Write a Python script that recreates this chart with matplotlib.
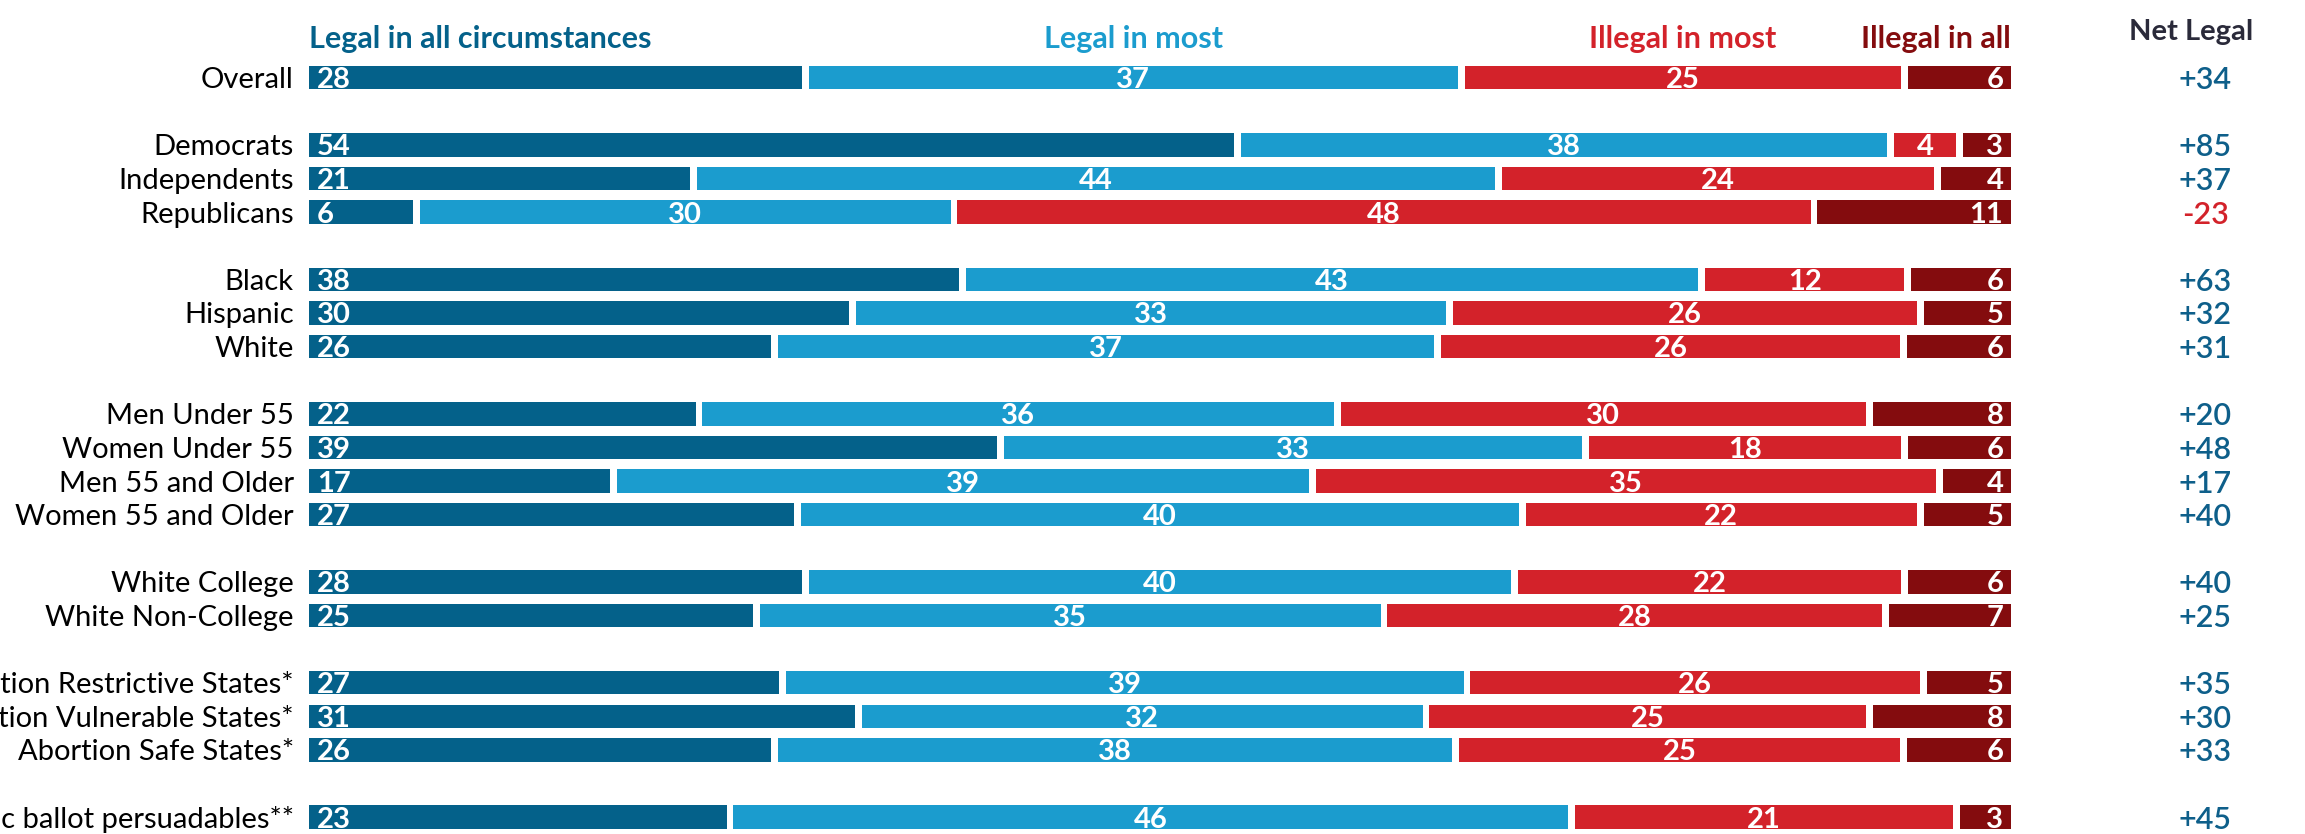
import matplotlib
matplotlib.use("Agg")
import matplotlib.pyplot as plt

# data
groups = ["Overall", "Democrats", "Independents", "Republicans", "Black", "Hispanic", "White",
          "Men Under 55", "Women Under 55", "Men 55 and Older", "Women 55 and Older",
          "White College", "White Non-College",
          "Abortion Restrictive States*", "Abortion Vulnerable States*", "Abortion Safe States*",
          "Generic ballot persuadables**"]
row_pos = [0, 2, 3, 4, 6, 7, 8, 10, 11, 12, 13, 15, 16, 18, 19, 20, 22]
legal_all = [28, 54, 21, 6, 38, 30, 26, 22, 39, 17, 27, 28, 25, 27, 31, 26, 23]
legal_most = [37, 38, 44, 30, 43, 33, 37, 36, 33, 39, 40, 40, 35, 39, 32, 38, 46]
illegal_most = [25, 4, 24, 48, 12, 26, 26, 30, 18, 35, 22, 22, 28, 26, 25, 25, 21]
illegal_all = [6, 3, 4, 11, 6, 5, 6, 8, 6, 4, 5, 6, 7, 5, 8, 6, 3]
series_names = ["Legal in all circumstances", "Legal in most", "Illegal in most", "Illegal in all"]
colors = ["#04618A", "#1B9CCE", "#D3222A", "#840C0E"]

W, H = 2305, 834
fig = plt.figure(figsize=(W / 100, H / 100), dpi=100)
x0, x1 = 309, 2011
ax = fig.add_axes([x0 / W, 0, (x1 - x0) / W, 1])
ax.set_xlim(0, 100)
ax.set_ylim(22.5, -2.31)
ax.axis("off")

lab_font = ["Lato", "DejaVu Sans"]
gap = 0.2
bar_h = 0.70
series = [legal_all, legal_most, illegal_most, illegal_all]

for i, y in enumerate(row_pos):
    vals = [s[i] for s in series]
    total = sum(vals)
    start = 0
    for k, v in enumerate(vals):
        w = v / total * 100
        left = start + (gap if k > 0 else 0)
        right = start + w - (gap if k < 3 else 0)
        ax.barh(y, right - left, left=left, height=bar_h, color=colors[k], linewidth=0)
        if k == 0:
            tx, ha = left + 0.45, "left"
        elif k == 3:
            tx, ha = right - 0.45, "right"
        else:
            tx, ha = (left + right) / 2, "center"
        ax.text(tx, y, str(v), ha=ha, va="center_baseline", color="white",
                fontsize=21, family=lab_font, fontweight="bold")
        start += w
    # the first label letters fall off the left edge, like in the source image
    ax.text(-0.9, y, groups[i], ha="right", va="center_baseline", fontsize=21,
            family=lab_font, color="black", clip_on=False)
    net = vals[0] + vals[1] - vals[2] - vals[3]
    ax.text(111.4, y, f"{net:+d}", ha="center", va="center_baseline", fontsize=22,
            family=lab_font, fontweight="semibold",
            color="#0E5F8A" if net >= 0 else "#D3222A", clip_on=False)

# header labels placed over the Overall segments
vals = [s[0] for s in series]
total = sum(vals)
edges = [0]
for v in vals:
    edges.append(edges[-1] + v / total * 100)
hy = -1.22
hsize = 22
ax.text(0, hy, series_names[0], ha="left", va="center_baseline", fontsize=hsize,
        family=lab_font, fontweight="bold", color=colors[0])
ax.text((edges[1] + edges[2]) / 2, hy, series_names[1], ha="center", va="center_baseline",
        fontsize=hsize, family=lab_font, fontweight="bold", color=colors[1])
ax.text((edges[2] + edges[3]) / 2, hy, series_names[2], ha="center", va="center_baseline",
        fontsize=hsize, family=lab_font, fontweight="bold", color=colors[2])
ax.text(100, hy, series_names[3], ha="right", va="center_baseline", fontsize=hsize,
        family=lab_font, fontweight="bold", color=colors[3])
ax.text(110.6, -1.43, "Net Legal", ha="center", va="center_baseline", fontsize=21,
        family=lab_font, fontweight="bold", color="#2A2A3A", clip_on=False)

fig.savefig("out.png", dpi=100)
